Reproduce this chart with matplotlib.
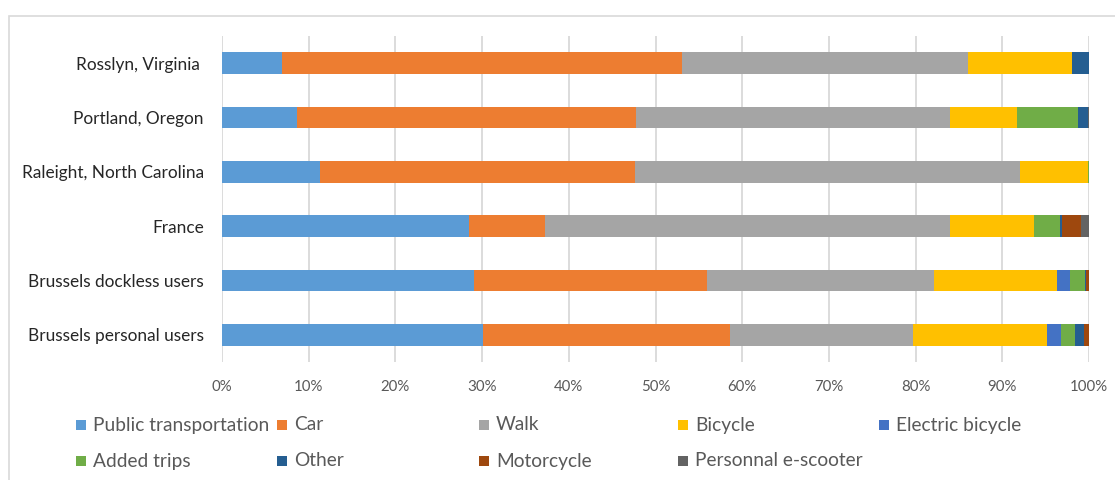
import matplotlib
matplotlib.use("Agg")
import matplotlib.pyplot as plt
from matplotlib.patches import Rectangle
import numpy as np

plt.rcParams['font.family'] = ['Lato', 'DejaVu Sans']

categories = ["Brussels personal users", "Brussels dockless users", "France",
              "Raleight, North Carolina", "Portland, Oregon", "Rosslyn, Virginia "]

series_names = ["Public transportation", "Car", "Walk", "Bicycle", "Electric bicycle",
                "Added trips", "Other", "Motorcycle", "Personnal e-scooter"]

public_transportation = [30.1, 29.1, 28.5, 11.3, 8.7, 6.9]
car = [28.5, 26.8, 8.8, 36.3, 39.1, 46.2]
walk = [21.1, 26.2, 46.7, 44.4, 36.2, 32.9]
bicycle = [15.5, 14.2, 9.7, 7.9, 7.7, 12.0]
electric_bicycle = [1.6, 1.5, 0.0, 0.0, 0.0, 0.0]
added_trips = [1.6, 1.7, 3.0, 0.1, 7.0, 0.0]
other = [1.0, 0.1, 0.2, 0.0, 1.2, 2.0]
motorcycle = [0.6, 0.4, 2.2, 0.0, 0.0, 0.0]
personnal_e_scooter = [0.0, 0.0, 0.9, 0.0, 0.1, 0.0]

series_values = [public_transportation, car, walk, bicycle, electric_bicycle,
                 added_trips, other, motorcycle, personnal_e_scooter]
colors = ["#5B9BD5", "#ED7D31", "#A5A5A5", "#FFC000", "#4472C4",
          "#70AD47", "#255E91", "#9E480E", "#636363"]

xtick_values = [0, 10, 20, 30, 40, 50, 60, 70, 80, 90, 100]
xtick_labels = [f"{v}%" for v in xtick_values]

W, H = 1115, 480
fig = plt.figure(figsize=(W / 100, H / 100), dpi=100)
fig.patch.set_facecolor("white")

# chart border
fig.add_artist(Rectangle((9 / W, -0.1), 1.2, 1 - 16 / H + 0.1, transform=fig.transFigure,
                         fill=False, edgecolor="#d9d9d9", lw=1.2))

ax = fig.add_axes([222 / W, 1 - 362 / H, (1089 - 222) / W, (362 - 36) / H])
y = np.arange(len(categories))
left = np.zeros(len(categories))
for name, vals, c in zip(series_names, series_values, colors):
    v = np.array(vals)
    ax.barh(y, v, left=left, height=0.4, color=c, label=name, zorder=3, linewidth=0)
    left += v

ax.set_xlim(0, 100)
ax.set_ylim(-0.5, len(categories) - 0.5)
ax.set_xticks(xtick_values)
ax.set_xticklabels(xtick_labels)
ax.set_yticks(y)
ax.set_yticklabels(categories)
ax.tick_params(axis="x", length=0, pad=13, labelsize=10.8, labelcolor="#595959")
ax.tick_params(axis="y", length=0, pad=13, labelsize=12.4, labelcolor="#262626")
for s in ax.spines.values():
    s.set_visible(False)
ax.grid(axis="x", color="#d9d9d9", lw=1.3, zorder=0)
ax.set_axisbelow(True)

# legend (manual, Excel-like layout)
col_x = [76, 277, 479, 678, 879]
row_y = [425, 461]
positions = [(0, 0), (1, 0), (2, 0), (3, 0), (4, 0), (0, 1), (1, 1), (2, 1), (3, 1)]
sq = 10
for (ci, ri), name, c in zip(positions, series_names, colors):
    x0 = col_x[ci]
    yc = row_y[ri]
    fig.add_artist(Rectangle((x0 / W, 1 - (yc + sq / 2) / H), sq / W, sq / H,
                             transform=fig.transFigure, facecolor=c, edgecolor="none"))
    fig.text((x0 + 17) / W, 1 - yc / H, name, fontsize=13.8, color="#595959",
             va="center", ha="left")

fig.savefig("out.png", dpi=100)
